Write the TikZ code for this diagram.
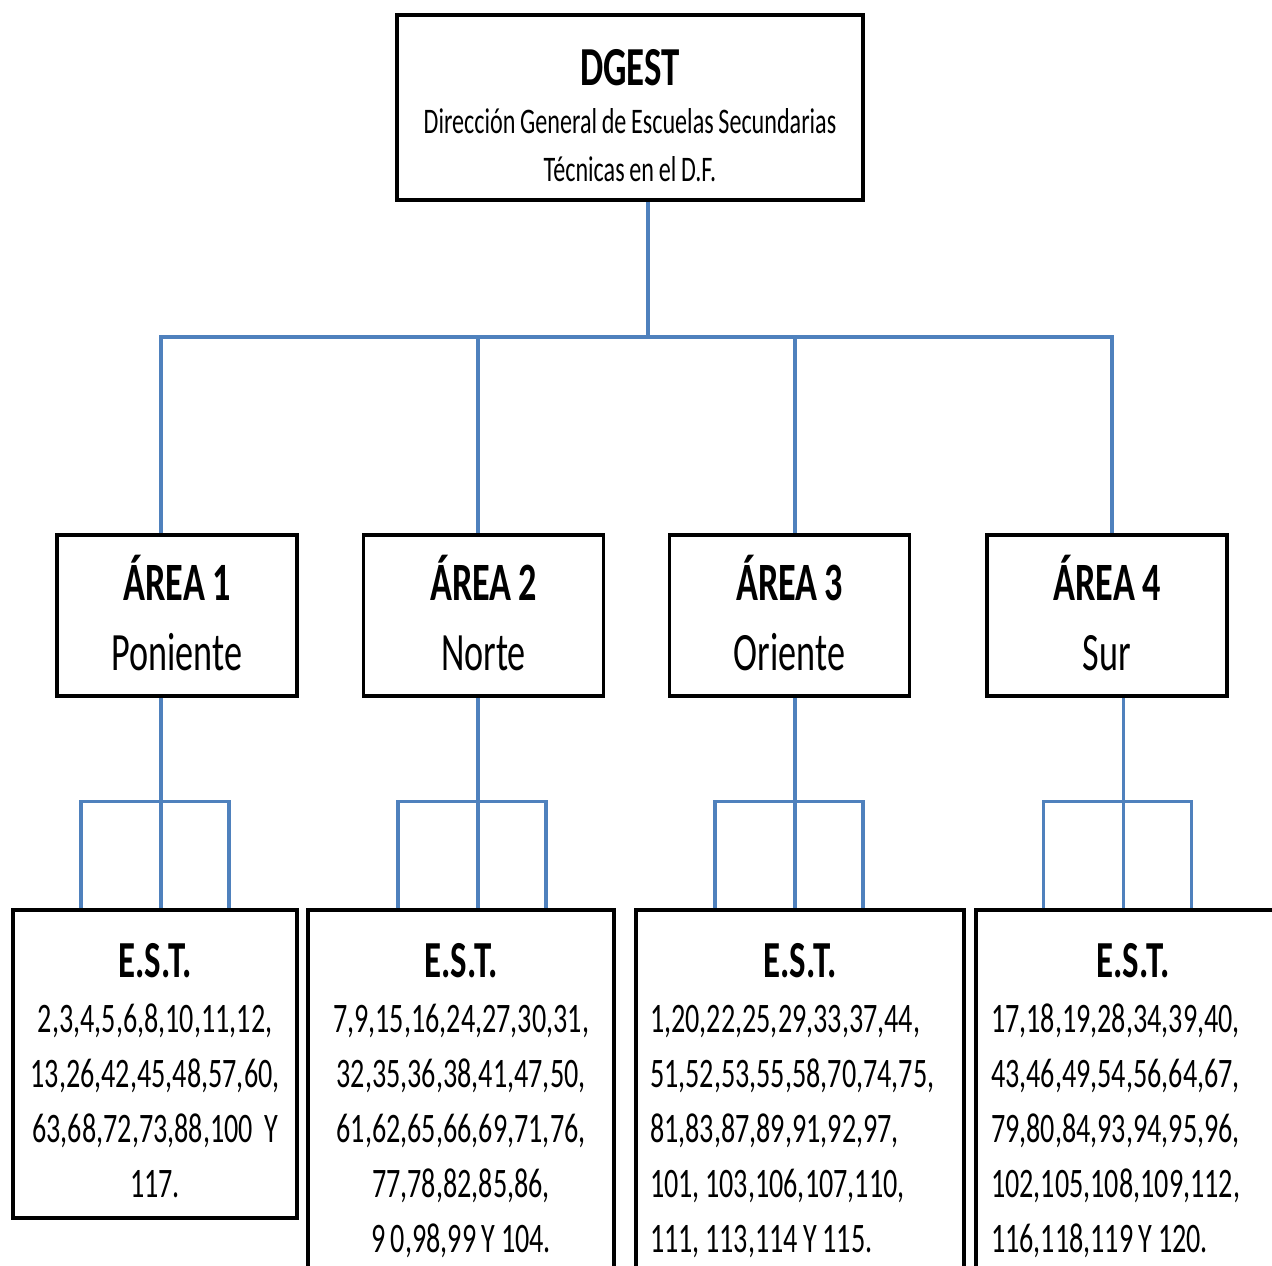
\documentclass[tikz,border=0pt]{standalone}
\usepackage{fontspec}
\setmainfont{Carlito}[FakeStretch=0.67]
\usetikzlibrary{positioning}
\definecolor{linkblue}{RGB}{79, 129, 189}
\newcommand{\esthead}{\makebox[\hsize]{\fontsize{52}{55}\selectfont\bfseries E.S.T.}}

\begin{document}
\begin{tikzpicture}[
    x=1pt, y=-1pt,
    box/.style={rectangle, draw=black, line width=3.5pt, inner sep=0pt, align=center},
    area/.style={box, minimum width=240, minimum height=161, text width=230, text height=45, text depth=76, font=\fontsize{54}{70}\selectfont, execute at begin node={\spaceskip 7pt\relax}},
    est/.style={box, text height=40, text depth=286, font=\fontsize{42}{55}\selectfont, execute at begin node={\spaceskip 5.5pt\relax}},
    link/.style={draw=linkblue, line width=3.5pt},
]
\useasboundingbox (0,0) rectangle (1272,1266);
\clip (0,0) rectangle (1272,1266);

% Direccion general
\node[box, minimum width=466, minimum height=185, text width=450, text height=40, text depth=85, font=\fontsize{36}{48}\selectfont, execute at begin node={\spaceskip 4.7pt\relax}] (dgest) at (630,107.5) {{\fontsize{55}{48}\selectfont\bfseries DGEST}\\Dirección General de Escuelas Secundarias\\Técnicas en el D.F.};

% Areas
\node[area] (a1) at (177,615.5) {{\bfseries ÁREA 1}\\Poniente};
\node[area] (a2) at (483.5,615.5) {{\bfseries ÁREA 2}\\Norte};
\node[area] (a3) at (789.5,615.5) {{\bfseries ÁREA 3}\\Oriente};
\node[area] (a4) at (1107,615.5) {{\bfseries ÁREA 4}\\Sur};

% Escuelas
\node[est, minimum width=284, minimum height=308, text width=280, text height=40, text depth=214] (e1) at (155,1064) {{\fontsize{52}{55}\selectfont\bfseries E.S.T.}\\2,3,4,5,6,8,10,11,12,\\13,26,42,45,48,57,60,\\63,68,72,73,88,100~~Y\\117.};
\node[est, minimum width=306, minimum height=380, text width=300] (e2) at (461,1100) {{\fontsize{52}{55}\selectfont\bfseries E.S.T.}\\7,9,15,16,24,27,30,31,\\32,35,36,38,41,47,50,\\61,62,65,66,69,71,76,\\77,78,82,85,86,\\9 0,98,99 Y 104.};
\node[est, minimum width=328, minimum height=380, text width=300, align=left] (e3) at (800,1100) {\esthead\\1,20,22,25,29,33,37,44,\\51,52,53,55,58,70,74,75,\\81,83,87,89,91,92,97,\\101, 103,106,107,110,\\111, 113,114 Y 115.};
\node[est, minimum width=314, minimum height=380, text width=284, align=left] (e4) at (1133,1100) {\esthead\\17,18,19,28,34,39,40,\\43,46,49,54,56,64,67,\\79,80,84,93,94,95,96,\\102,105,108,109,112,\\116,118,119 Y 120.};

% Conexiones
\coordinate (hub) at (648,337);
\draw[link] (hub |- dgest.south) -- (hub);
\draw[link] (hub) -| ([xshift=-16]a1.north);
\draw[link] (hub) -| ([xshift=-5.5]a2.north);
\draw[link] (hub) -| ([xshift=5.5]a3.north);
\draw[link] (hub) -| ([xshift=5]a4.north);

\foreach \i/\dx in {1/-16, 2/-5.5, 3/5.5, 4/16.5} {
    \draw[link] ([xshift=\dx]a\i.south) -- ([xshift=\dx]a\i.south |- e\i.north);
    \draw[link] ([xshift=\dx-80]a\i.south |- e\i.north) -- ++(0,-107) -| ([xshift=\dx+68]a\i.south |- e\i.north);
}
\end{tikzpicture}
\end{document}
